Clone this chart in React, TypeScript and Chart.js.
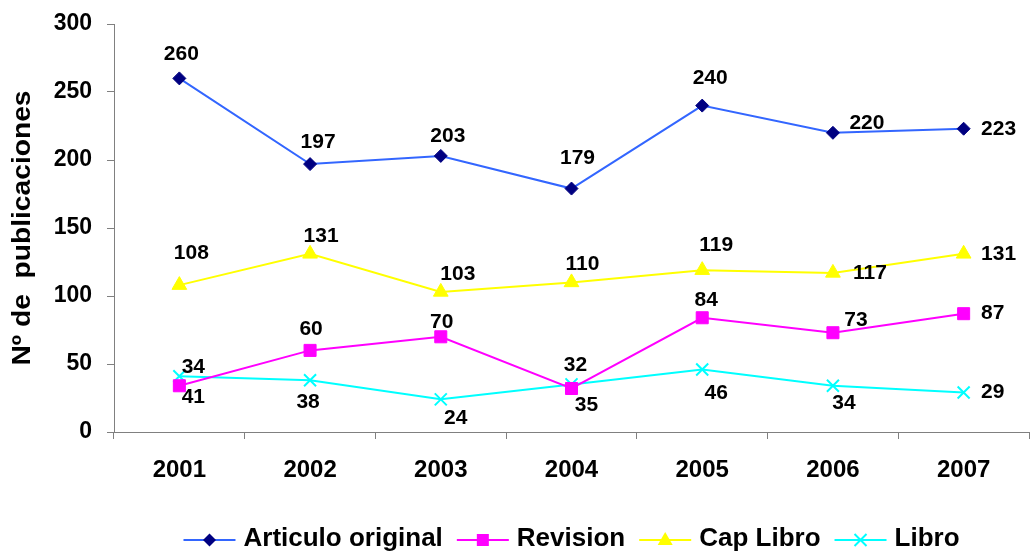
import React, { useEffect, useRef } from "react";
import { Chart, registerables } from "chart.js";

Chart.register(...registerables);

const categories = ["2001", "2002", "2003", "2004", "2005", "2006", "2007"];
const articuloOriginal = [260, 197, 203, 179, 240, 220, 223];
const revision = [34, 60, 70, 32, 84, 73, 87];
const capLibro = [108, 131, 103, 110, 119, 117, 131];
const libro = [41, 38, 24, 35, 46, 34, 29];
const yMin = 0;
const yMax = 300;
const yStep = 50;
const yTitle = "Nº de  publicaciones";

// label offsets (pixels) relative to each point, per series
const labelOffsets: number[][][] = [
  [[2, -24], [8, -22], [7, -20], [6, -30], [8, -27], [34, -10], [35, 0]],
  [[14, -19], [1, -21], [1, -15], [4, -23], [4, -18], [23, -13], [29, 0]],
  [[12, -32], [11, -18], [17, -18], [11, -18], [14, -25], [37, 0], [35, 0]],
  [[14, 21], [-2, 22], [15, 19], [15, 21], [14, 24], [11, 17], [29, 0]],
];

const FONT = '"Liberation Sans", Arial, sans-serif';
const CANVAS_W = 1030;
const CANVAS_H = 552;

type Marker = "diamond" | "square" | "triangle" | "x";

function drawMarker(ctx: CanvasRenderingContext2D, kind: Marker, x: number, y: number, fill: string) {
  ctx.save();
  ctx.fillStyle = fill;
  ctx.strokeStyle = fill;
  ctx.beginPath();
  if (kind === "diamond") {
    const r = 6.5;
    ctx.moveTo(x, y - r);
    ctx.lineTo(x + r, y);
    ctx.lineTo(x, y + r);
    ctx.lineTo(x - r, y);
    ctx.closePath();
    ctx.fill();
  } else if (kind === "square") {
    ctx.rect(x - 6, y - 6, 12, 12);
    ctx.fill();
  } else if (kind === "triangle") {
    ctx.moveTo(x, y - 8);
    ctx.lineTo(x + 7.5, y + 5);
    ctx.lineTo(x - 7.5, y + 5);
    ctx.closePath();
    ctx.fill();
  } else {
    ctx.lineWidth = 2;
    ctx.moveTo(x - 6, y - 6);
    ctx.lineTo(x + 6, y + 6);
    ctx.moveTo(x + 6, y - 6);
    ctx.lineTo(x - 6, y + 6);
    ctx.stroke();
  }
  ctx.restore();
}

const series = [
  { label: "Articulo original", data: articuloOriginal, line: "#3366FF", mark: "#000080", style: "rectRot", radius: 6.5, marker: "diamond" as Marker },
  { label: "Revision", data: revision, line: "#FF00FF", mark: "#FF00FF", style: "rect", radius: 8.5, marker: "square" as Marker },
  { label: "Cap Libro", data: capLibro, line: "#FFFF00", mark: "#FFFF00", style: "triangle", radius: 8.5, marker: "triangle" as Marker },
  { label: "Libro", data: libro, line: "#00FFFF", mark: "#00FFFF", style: "crossRot", radius: 8.5, marker: "x" as Marker },
];

const overlayPlugin = {
  id: "overlay",
  afterDatasetsDraw(chart: any) {
    const ctx: CanvasRenderingContext2D = chart.ctx;
    // data labels
    ctx.save();
    ctx.font = `bold 21px ${FONT}`;
    ctx.fillStyle = "#000";
    ctx.textAlign = "center";
    ctx.textBaseline = "middle";
    chart.data.datasets.forEach((ds: any, di: number) => {
      const meta = chart.getDatasetMeta(di);
      meta.data.forEach((pt: any, i: number) => {
        const off = labelOffsets[di][i];
        ctx.fillText(String(ds.data[i]), pt.x + off[0], pt.y + off[1]);
      });
    });
    ctx.restore();

    // y title
    ctx.save();
    ctx.font = `bold 25px ${FONT}`;
    ctx.fillStyle = "#000";
    ctx.textAlign = "center";
    ctx.textBaseline = "middle";
    const w = ctx.measureText(yTitle).width;
    ctx.translate(23, 228);
    ctx.rotate(-Math.PI / 2);
    ctx.scale(275 / w, 1);
    ctx.fillText(yTitle, 0, 0);
    ctx.restore();

    // legend
    ctx.save();
    ctx.font = `bold 26px ${FONT}`;
    ctx.textBaseline = "alphabetic";
    ctx.textAlign = "left";
    const lineLen = 52;
    const gapText = 8;
    const gapItem = 14;
    let total = 0;
    series.forEach((s, i) => {
      total += lineLen + gapText + ctx.measureText(s.label).width;
      if (i < series.length - 1) total += gapItem;
    });
    const area = chart.chartArea;
    let x = (area.left + area.right) / 2 - total / 2;
    const ly = 540;
    series.forEach((s) => {
      ctx.strokeStyle = s.line;
      ctx.lineWidth = 2;
      ctx.beginPath();
      ctx.moveTo(x, ly);
      ctx.lineTo(x + lineLen, ly);
      ctx.stroke();
      drawMarker(ctx, s.marker, x + lineLen / 2, ly, s.mark);
      x += lineLen + gapText;
      ctx.fillStyle = "#000";
      ctx.fillText(s.label, x, 546);
      x += ctx.measureText(s.label).width + gapItem;
    });
    ctx.restore();
  },
};

export default function App() {
  const canvasRef = useRef<HTMLCanvasElement | null>(null);

  useEffect(() => {
    if (!canvasRef.current) return;
    const chart = new Chart(canvasRef.current, {
      type: "line",
      data: {
        labels: categories,
        datasets: series.map((s) => ({
          label: s.label,
          data: s.data,
          borderColor: s.line,
          backgroundColor: s.mark,
          borderWidth: 2,
          pointStyle: s.style as any,
          pointRadius: s.radius,
          pointHoverRadius: s.radius,
          pointBackgroundColor: s.mark,
          pointBorderColor: s.mark,
          pointBorderWidth: s.style === "crossRot" ? 2 : 1,
          tension: 0,
          fill: false,
        })),
      },
      options: {
        responsive: false,
        animation: false,
        events: [],
        layout: { padding: { top: 24, right: 0, left: 0, bottom: 0 } },
        plugins: {
          legend: { display: false },
          tooltip: { enabled: false },
          title: { display: false },
        },
        scales: {
          x: {
            offset: true,
            grid: {
              offset: true,
              drawOnChartArea: false,
              drawTicks: true,
              tickLength: 7,
              color: "#808080",
            },
            border: { display: true, color: "#808080", width: 1 },
            ticks: {
              color: "#000",
              font: { family: FONT, size: 24, weight: "bold" },
              padding: 17,
              maxRotation: 0,
            },
            afterFit: (s: any) => {
              s.height = 120;
              s.paddingLeft = 0;
              s.paddingRight = 0;
            },
          },
          y: {
            min: yMin,
            max: yMax,
            grid: {
              drawOnChartArea: false,
              drawTicks: true,
              tickLength: 7,
              color: "#808080",
            },
            border: { display: true, color: "#808080", width: 1 },
            ticks: {
              stepSize: yStep,
              color: "#000",
              font: { family: FONT, size: 23, weight: "bold" },
              padding: 15,
            },
            afterFit: (s: any) => {
              s.width = 114;
              s.paddingTop = 0;
              s.paddingBottom = 0;
            },
          },
        },
      },
      plugins: [
        overlayPlugin,
        {
          id: "fixArea",
          afterLayout(c: any) {
            // extend the plotting area to the right edge used by the reference
            const target = CANVAS_W - 1;
            const a = c.chartArea;
            if (Math.abs(a.right - target) > 0.5) {
              const xs = c.scales.x;
              a.right = target;
              a.width = a.right - a.left;
              xs.right = target;
              xs.width = target - xs.left;
              xs.configure();
            }
          },
        },
      ],
    });
    return () => chart.destroy();
  }, []);

  return (
    <div style={{ position: "absolute", left: 0, top: 0, width: CANVAS_W, height: CANVAS_H, background: "#fff" }}>
      <canvas ref={canvasRef} width={CANVAS_W} height={CANVAS_H} style={{ display: "block" }} />
    </div>
  );
}
